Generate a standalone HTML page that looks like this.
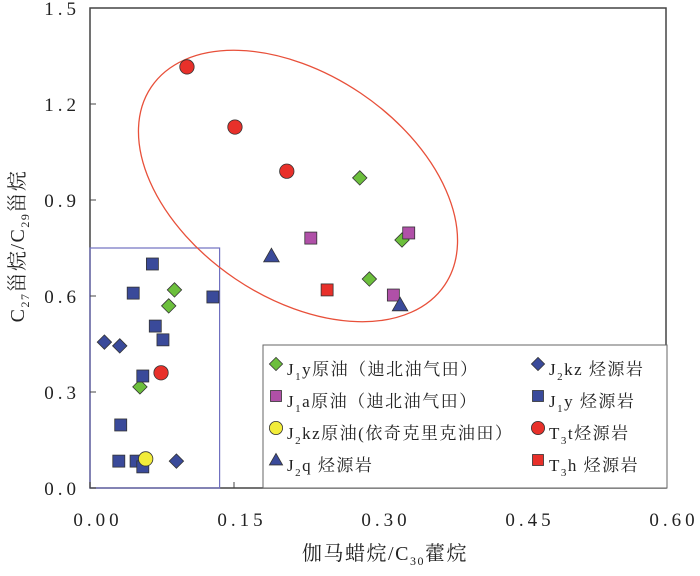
<!DOCTYPE html>
<html><head><meta charset="utf-8"><style>
body{margin:0;background:#fff;}
svg text{font-family:"Liberation Serif","Noto Serif CJK SC",serif;fill:#222;}
</style></head><body>
<svg width="700" height="571" viewBox="0 0 700 571">
<g id="plot"></g>
</svg>
<script>
const xTicks=[0,0.15,0.3,0.45,0.6];
const xTickLabels=["0.00","0.15","0.30","0.45","0.60"];
const yTicks=[0,0.3,0.6,0.9,1.2,1.5];
const yTickLabels=["0.0","0.3","0.6","0.9","1.2","1.5"];
const j1yOilX=[0.281,0.325,0.291,0.088,0.082,0.052];
const j1yOilY=[0.969,0.775,0.653,0.619,0.569,0.316];
const j1aOilX=[0.230,0.332,0.316];
const j1aOilY=[0.781,0.797,0.603];
const j2kzOilX=[0.058];
const j2kzOilY=[0.091];
const j2qRockX=[0.189,0.323];
const j2qRockY=[0.725,0.572];
const j2kzRockX=[0.015,0.031,0.090];
const j2kzRockY=[0.456,0.444,0.084];
const j1yRockX=[0.065,0.045,0.128,0.068,0.076,0.055,0.032,0.030,0.048,0.055];
const j1yRockY=[0.70,0.609,0.597,0.506,0.463,0.35,0.197,0.084,0.084,0.066];
const t3tRockX=[0.101,0.151,0.205,0.074];
const t3tRockY=[1.316,1.128,0.99,0.36];
const t3hRockX=[0.247];
const t3hRockY=[0.619];

const NS="http://www.w3.org/2000/svg";
const g=document.getElementById('plot');
const X0=90,X1=666,Y0=488,Y1=8;
const sx=v=>X0+(v/0.6)*(X1-X0);
const sy=v=>Y0-(v/1.5)*(Y0-Y1);
function el(t,a,p){const e=document.createElementNS(NS,t);for(const k in a)e.setAttribute(k,a[k]);(p||g).appendChild(e);return e;}

let fr=el('rect',{x:X0,y:Y1,width:X1-X0,height:Y0-Y1,fill:'none',stroke:'#444','stroke-width':1.5});



let bx=el('rect',{x:X0,y:sy(0.75),width:sx(0.135)-X0,height:Y0-sy(0.75),fill:'none',stroke:'#7070c0','stroke-width':1.2});



let ell=el('ellipse',{cx:298,cy:186,rx:177,ry:112,fill:'none',stroke:'#e8503a','stroke-width':1.3,transform:'rotate(34 298 186)'});



xTicks.forEach((v,i)=>{
  let t=el('line',{x1:sx(v),x2:sx(v),y1:Y0,y2:Y0-6,stroke:'#444'});
  
  
  let l=el('text',{x:sx(v)+8,y:526,'text-anchor':'middle','font-size':19,'letter-spacing':'4'});
  l.textContent=xTickLabels[i];
  
  
});
yTicks.forEach((v,i)=>{
  let t=el('line',{x1:X0,x2:X0+6,y1:sy(v),y2:sy(v),stroke:'#444'});
  
  
  let l=el('text',{x:80,y:sy(v)+7,'text-anchor':'end','font-size':19,'letter-spacing':'4'});
  l.textContent=yTickLabels[i];
  
  
});

function marker(type,x,y,fill,s,parent){
  let e;
  if(type==='circle') e=el('circle',{cx:x,cy:y,r:s*0.6,fill:fill,stroke:'#333','stroke-width':0.8},parent);
  else if(type==='square') e=el('rect',{x:x-s/2,y:y-s/2,width:s,height:s,fill:fill,stroke:'#333','stroke-width':0.8},parent);
  else if(type==='diamond') e=el('polygon',{points:`${x},${y-s*0.6} ${x+s*0.6},${y} ${x},${y+s*0.6} ${x-s*0.6},${y}`,fill:fill,stroke:'#333','stroke-width':0.8},parent);
  else e=el('polygon',{points:`${x},${y-s*0.6} ${x+s*0.6},${y+s*0.45} ${x-s*0.6},${y+s*0.45}`,fill:fill,stroke:'#333','stroke-width':0.8},parent);
  return e;
}
const series=[
 [j1yOilX,j1yOilY,'diamond','#6cbf3c',12,'j1y-oil-point'],
 [j1aOilX,j1aOilY,'square','#b050a8',12,'j1a-oil-point'],
 [j2qRockX,j2qRockY,'triangle','#3a4a9a',13,'j2q-rock-point'],
 [j2kzRockX,j2kzRockY,'diamond','#3a4a9a',12,'j2kz-rock-point'],
 [j1yRockX,j1yRockY,'square','#3a4a9a',12,'j1y-rock-point'],
 [j2kzOilX,j2kzOilY,'circle','#f2ec3a',12,'j2kz-oil-point'],
 [t3tRockX,t3tRockY,'circle','#e8302a',12,'t3t-rock-point'],
 [t3hRockX,t3hRockY,'square','#e8302a',12,'t3h-rock-point'],
];
series.forEach(s=>{
  s[0].forEach((xv,i)=>{
    let m=marker(s[2],sx(xv),sy(s[1][i]),s[3],s[4]);
    
    
  });
});

let lg=el('g',{});


el('rect',{x:263,y:345,width:404,height:143,fill:'#fff',stroke:'#666','stroke-width':1},lg);
const legendItems=[
 [276,367,'diamond','#6cbf3c','J','1','y原油（迪北油气田）'],
 [538,367,'diamond','#3a4a9a','J','2','kz 烃源岩'],
 [276,399,'square','#b050a8','J','1','a原油（迪北油气田）'],
 [538,399,'square','#3a4a9a','J','1','y 烃源岩'],
 [276,431,'circle','#f2ec3a','J','2','kz原油(依奇克里克油田）'],
 [538,431,'circle','#e8302a','T','3','t烃源岩'],
 [276,463,'triangle','#3a4a9a','J','2','q 烃源岩'],
 [538,463,'square','#e8302a','T','3','h 烃源岩'],
];
legendItems.forEach(it=>{
  let e=el('g',{},lg);
  
  
  marker(it[2],it[0],it[1]-3,it[3],11,e);
  let t=el('text',{x:it[0]+11,y:it[1]+8,'font-size':17,'letter-spacing':'1.5'},e);
  t.innerHTML=it[4]+'<tspan font-size="11" dy="5">'+it[5]+'</tspan><tspan dy="-5">'+it[6]+'</tspan>';
});

let xt=el('text',{x:385,y:560,'text-anchor':'middle','font-size':20,'letter-spacing':'1.5'});
xt.innerHTML='伽马蜡烷/C<tspan font-size="12" dy="5">30</tspan><tspan dy="-5">藿烷</tspan>';


let yt=el('text',{x:0,y:0,'text-anchor':'middle','font-size':20,'letter-spacing':'1.5',transform:'translate(24 246) rotate(-90)'});
yt.innerHTML='C<tspan font-size="12" dy="5">27</tspan><tspan dy="-5">甾烷/C</tspan><tspan font-size="12" dy="5">29</tspan><tspan dy="-5">甾烷</tspan>';


</script>
</body></html>
